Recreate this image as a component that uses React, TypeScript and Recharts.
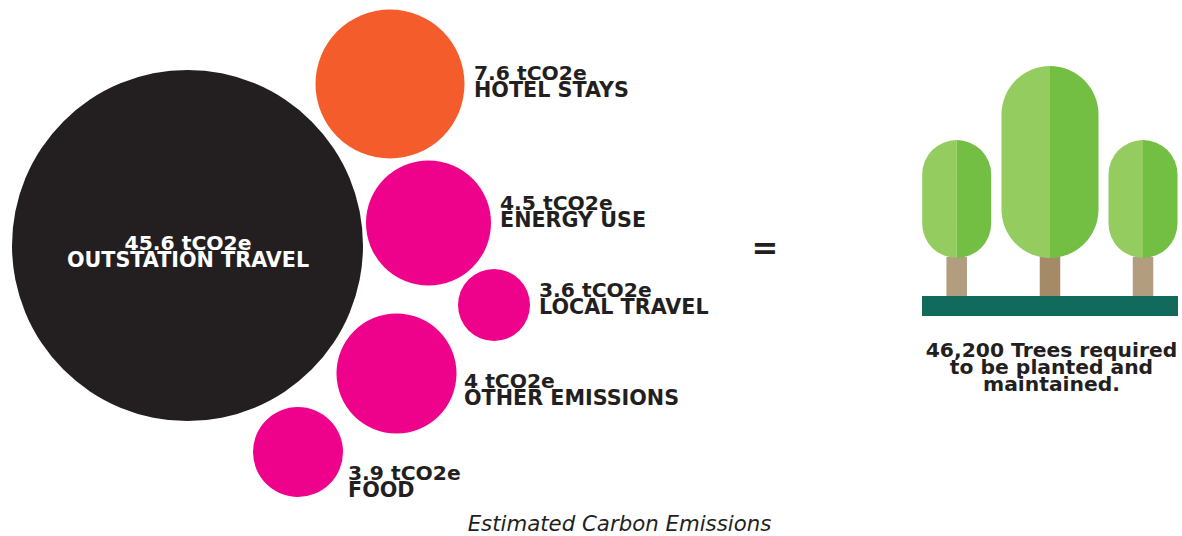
import { Cell, ReferenceArea, Scatter, ScatterChart, XAxis, YAxis, ZAxis } from "recharts"

const WIDTH = 1182
const HEIGHT = 536
const FONT = "'DejaVu Sans', Verdana, sans-serif"
const INK = "#231f20"

const CATEGORIES = ["OUTSTATION TRAVEL", "HOTEL STAYS", "ENERGY USE", "LOCAL TRAVEL", "OTHER EMISSIONS", "FOOD"]
const VALUES = ["45.6", "7.6", "4.5", "3.6", "4", "3.9"]
const BUBBLE_X = [187.5, 390, 428.5, 494, 396.5, 298]
const BUBBLE_Y = [245.5, 84, 223, 305, 373.5, 452]
const BUBBLE_DIAMETER = [351, 149, 125, 72, 120, 90]
const BUBBLE_COLORS = ["#231f20", "#f55c2b", "#ee028c", "#ee028c", "#ee028c", "#ee028c"]
const LABEL_X = [188, 474, 500, 539, 464, 348]
const LABEL_Y = [250, 80, 210, 297, 388, 480]

const TREE_X = [956.7, 1050, 1143]
const TREE_TOP = [140, 66, 140]
const TREE_WIDTH = [69, 97, 69]
const TRUNK_COLORS = ["#b29d7e", "#a58a67", "#b29d7e"]
const CROWN_BOTTOM = 258
const GROUND_TOP = 296
const GROUND_BOTTOM = 316
const GROUND_LEFT = 922
const GROUND_RIGHT = 1178

const TREE_NOTE = ["46,200 Trees required", "to be planted and", "maintained."]
const CAPTION = "Estimated Carbon Emissions"

const bubbles = CATEGORIES.map((name, i) => ({
  name,
  x: BUBBLE_X[i],
  y: BUBBLE_Y[i],
  area: Math.PI * (BUBBLE_DIAMETER[i] / 2) ** 2,
}))
const labels = CATEGORIES.map((name, i) => ({ name, value: VALUES[i], x: LABEL_X[i], y: LABEL_Y[i], i }))
const trees = TREE_X.map((x, i) => ({ x, y: TREE_TOP[i], i }))
const noteAnchor = [{ x: 1051.5, y: 357 }]
const equalsAnchor = [{ x: 765, y: 259 }]
const captionAnchor = [{ x: 619.5, y: 531 }]

function BubbleLabel({ cx, cy, payload }: any) {
  const centred = payload.i === 0
  return (
    <text fill={centred ? "#ffffff" : INK} textAnchor={centred ? "middle" : "start"} style={{ fontFamily: FONT, fontWeight: 700 }}>
      <tspan x={cx} y={cy} fontSize={20.3}>{`${payload.value} tCO2e`}</tspan>
      <tspan x={cx} y={cy + 17} fontSize={20.7}>{payload.name}</tspan>
    </text>
  )
}

function Tree({ cx, cy, payload }: any) {
  const w = TREE_WIDTH[payload.i]
  const r = w / 2
  const trunk = 20.5
  const bottom = CROWN_BOTTOM
  const half = (dir: number) =>
    `M${cx} ${cy} A${r} ${r} 0 0 ${dir > 0 ? 1 : 0} ${cx + dir * r} ${cy + r} ` +
    `L${cx + dir * r} ${bottom - r} A${r} ${r} 0 0 ${dir > 0 ? 1 : 0} ${cx} ${bottom} Z`
  return (
    <g>
      <rect x={cx - trunk / 2} y={bottom - 1} width={trunk} height={GROUND_TOP - bottom + 1} fill={TRUNK_COLORS[payload.i]} />
      <path d={half(-1)} fill="#95cc60" />
      <path d={half(1)} fill="#72bf44" />
    </g>
  )
}

function TreeNote({ cx, cy }: any) {
  return (
    <text textAnchor="middle" fill={INK} style={{ fontFamily: FONT, fontWeight: 700, fontSize: 20.3 }}>
      {TREE_NOTE.map((line, i) => (
        <tspan key={line} x={cx} y={cy + i * 17}>{line}</tspan>
      ))}
    </text>
  )
}

function EqualsSign({ cx, cy }: any) {
  return (
    <text x={cx} y={cy} textAnchor="middle" fill={INK} style={{ fontFamily: FONT, fontWeight: 700, fontSize: 32 }}>=</text>
  )
}

function Caption({ cx, cy }: any) {
  return (
    <text x={cx} y={cy} textAnchor="middle" fill={INK} style={{ fontFamily: FONT, fontStyle: "italic", fontSize: 21.3 }}>
      {CAPTION}
    </text>
  )
}

export default function App() {
  return (
    <div style={{ position: "absolute", left: 0, top: 0, width: WIDTH, height: HEIGHT, background: "#ffffff" }}>
      <ScatterChart width={WIDTH} height={HEIGHT} margin={{ top: 0, right: 0, bottom: 0, left: 0 }}>
        <XAxis type="number" dataKey="x" domain={[0, WIDTH]} hide />
        <YAxis type="number" dataKey="y" domain={[0, HEIGHT]} reversed hide />
        <ZAxis type="number" dataKey="area" domain={[0, 100000]} range={[0, 100000]} />
        <Scatter data={trees} shape={Tree} isAnimationActive={false} />
        <ReferenceArea x1={GROUND_LEFT} x2={GROUND_RIGHT} y1={GROUND_TOP} y2={GROUND_BOTTOM} fill="#116a5c" fillOpacity={1} stroke="none" />
        <Scatter data={bubbles} isAnimationActive={false}>
          {bubbles.map((b, i) => (
            <Cell key={b.name} fill={BUBBLE_COLORS[i]} />
          ))}
        </Scatter>
        <Scatter data={labels} shape={BubbleLabel} isAnimationActive={false} />
        <Scatter data={noteAnchor} shape={TreeNote} isAnimationActive={false} />
        <Scatter data={equalsAnchor} shape={EqualsSign} isAnimationActive={false} />
        <Scatter data={captionAnchor} shape={Caption} isAnimationActive={false} />
      </ScatterChart>
    </div>
  )
}
